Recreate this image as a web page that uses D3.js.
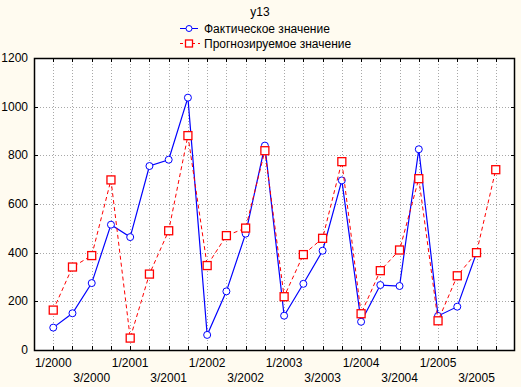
<!DOCTYPE html>
<html>
<head>
<meta charset="utf-8">
<script src="https://d3js.org/d3.v7.min.js"></script>
<style>
  body { margin: 0; background: #fffbf0; }
  svg { display: block; }
  text { font-family: "Liberation Sans", Arial, sans-serif; font-size: 12px; fill: #000; }
  .grid line { stroke: #a8a8a8; stroke-dasharray: 1,2; }
</style>
</head>
<body>
<div id="chart"></div>
<script>
// quarters 1/2000 .. 4/2005
var periods = ["1/2000","2/2000","3/2000","4/2000","1/2001","2/2001","3/2001","4/2001",
               "1/2002","2/2002","3/2002","4/2002","1/2003","2/2003","3/2003","4/2003",
               "1/2004","2/2004","3/2004","4/2004","1/2005","2/2005","3/2005","4/2005"];
var actual = [92, 151, 275, 515, 464, 756, 782, 1037,
              62, 241, 478, 840, 141, 272, 408, 697,
              116, 267, 263, 825, 140, 178, 399];
var forecast = [164, 341, 388, 699, 49, 312, 490, 881,
                347, 470, 501, 819, 219, 392, 459, 774,
                149, 326, 411, 704, 120, 305, 400, 741];
var yTicks = [0, 200, 400, 600, 800, 1000, 1200];
var title = "y13";
var seriesNames = ["Фактическое значение", "Прогнозируемое значение"];

var W = 521, H = 387;
var margin = {top: 58, right: 6, bottom: 37, left: 34};

var svg = d3.select("#chart").append("svg")
    .attr("width", W).attr("height", H);

var x = d3.scaleLinear().domain([-1, periods.length]).range([margin.left, W - margin.right]);
var y = d3.scaleLinear().domain([0, 1200]).range([H - margin.bottom, margin.top]);

svg.append("rect")
    .attr("x", margin.left).attr("y", margin.top)
    .attr("width", x.range()[1] - margin.left)
    .attr("height", y(0) - margin.top)
    .attr("fill", "#fff");

// grid
var grid = svg.append("g").attr("class", "grid");
grid.selectAll(".gx").data(periods).enter().append("line")
    .attr("x1", function(d, i) { return Math.round(x(i)) + 0.5; })
    .attr("x2", function(d, i) { return Math.round(x(i)) + 0.5; })
    .attr("y1", margin.top).attr("y2", y(0));
grid.selectAll(".gy").data(yTicks.slice(1, -1)).enter().append("line")
    .attr("x1", margin.left).attr("x2", x.range()[1])
    .attr("y1", function(d) { return Math.round(y(d)) + 0.5; })
    .attr("y2", function(d) { return Math.round(y(d)) + 0.5; });

// ticks on all four sides, pointing inward
var tk = svg.append("g").attr("stroke", "#000");
periods.forEach(function(p, i) {
    var px = Math.round(x(i)) + 0.5;
    tk.append("line").attr("x1", px).attr("x2", px)
        .attr("y1", y(0)).attr("y2", y(0) - 4);
    tk.append("line").attr("x1", px).attr("x2", px)
        .attr("y1", margin.top).attr("y2", margin.top + 4);
});
yTicks.forEach(function(v) {
    var py = Math.round(y(v)) + 0.5;
    tk.append("line").attr("x1", margin.left).attr("x2", margin.left + 4)
        .attr("y1", py).attr("y2", py);
    tk.append("line").attr("x1", x.range()[1]).attr("x2", x.range()[1] - 4)
        .attr("y1", py).attr("y2", py);
});

// frame
svg.append("rect")
    .attr("x", margin.left + 0.5).attr("y", margin.top + 0.5)
    .attr("width", x.range()[1] - margin.left - 1)
    .attr("height", y(0) - margin.top)
    .attr("fill", "none").attr("stroke", "#000").attr("stroke-width", 1.5);

// y labels
svg.selectAll(".ylab").data(yTicks).enter().append("text")
    .attr("x", 28).attr("y", function(d) { return y(d) + 4; })
    .attr("text-anchor", "end")
    .text(function(d) { return d; });

// x labels: every second quarter, alternating rows
periods.forEach(function(p, i) {
    if (i % 2 !== 0 || i > 22) return;
    var row = (i % 4 === 0) ? 0 : 1;
    svg.append("text")
        .attr("x", x(i)).attr("y", y(0) + 17 + row * 15)
        .attr("text-anchor", "middle")
        .text(p);
});

// lines: actual first, forecast drawn on top
var line = function(data) {
    return d3.line().x(function(d, i) { return x(i); }).y(function(d) { return y(d); })(data);
};
svg.append("path").attr("d", line(actual))
    .attr("fill", "none").attr("stroke", "#00f").attr("stroke-width", 1.2);
svg.selectAll(".dot").data(actual).enter().append("circle")
    .attr("cx", function(d, i) { return x(i); })
    .attr("cy", function(d) { return y(d); })
    .attr("r", 3.5)
    .attr("fill", "#fff").attr("stroke", "#00f").attr("stroke-width", 1);

svg.append("path").attr("d", line(forecast))
    .attr("fill", "none").attr("stroke", "#f00").attr("stroke-width", 1)
    .attr("stroke-dasharray", "4,3");
svg.selectAll(".sq").data(forecast).enter().append("rect")
    .attr("x", function(d, i) { return x(i) - 4; })
    .attr("y", function(d) { return y(d) - 4; })
    .attr("width", 8).attr("height", 8)
    .attr("fill", "#fff").attr("stroke", "#f00").attr("stroke-width", 1.3);

// title + legend
svg.append("text").attr("x", 260).attr("y", 16).attr("text-anchor", "middle").text(title);

var lg = svg.append("g");
var lx = 180;
lg.append("line").attr("x1", lx).attr("x2", lx + 18).attr("y1", 28.5).attr("y2", 28.5)
    .attr("stroke", "#00f");
lg.append("circle").attr("cx", lx + 9).attr("cy", 28.5).attr("r", 3)
    .attr("fill", "#fff").attr("stroke", "#00f");
lg.append("line").attr("x1", lx).attr("x2", lx + 20).attr("y1", 43.5).attr("y2", 43.5)
    .attr("stroke", "#f00").attr("stroke-dasharray", "3,3");
lg.append("rect").attr("x", lx + 5.5).attr("y", 40).attr("width", 7).attr("height", 7)
    .attr("fill", "#fff").attr("stroke", "#f00").attr("stroke-width", 1.3);
lg.append("text").attr("x", lx + 24).attr("y", 32.5).text(seriesNames[0]);
lg.append("text").attr("x", lx + 24).attr("y", 47.5).text(seriesNames[1]);
</script>
</body>
</html>
